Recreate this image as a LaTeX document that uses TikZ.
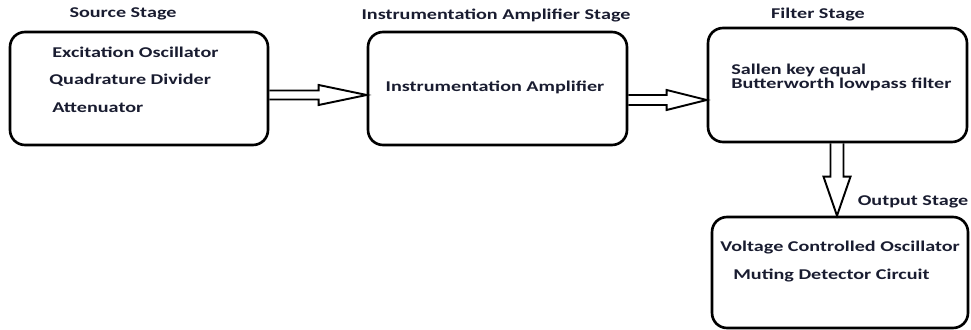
\documentclass[tikz,border=0pt]{standalone}
\usepackage{fontspec}
\setmainfont{Carlito}[FakeStretch=1.35]
\usetikzlibrary{calc}
\definecolor{labelink}{RGB}{25,28,48}

\begin{document}
\begin{tikzpicture}[x=0.02cm,y=-0.02cm,
    stagebox/.style={draw,line width=1.5pt,rounded corners=8.5pt,inner sep=0pt},
    stagetitle/.style={font=\fontsize{8.5}{10}\selectfont\bfseries,text=labelink,inner sep=0pt},
    boxtext/.style={font=\fontsize{8.5}{8}\selectfont\bfseries,text=labelink,inner sep=0pt,anchor=west,align=left},
    hollow/.style={draw,line width=1.1pt,line join=miter}]

  \useasboundingbox (0,0) rectangle (971,330);

  % the four stages
  \node[stagebox,minimum width=5.16cm,minimum height=2.26cm] (src) at (139,88.5) {};
  \node[stagebox,minimum width=5.18cm,minimum height=2.26cm] (amp) at (497.5,88.5) {};
  \node[stagebox,minimum width=5.18cm,minimum height=2.28cm] (filt) at (837.5,85) {};
  \node[stagebox,minimum width=5.12cm,minimum height=2.22cm] (out) at (840,272.5) {};

  % titles
  \node[stagetitle] (srctitle) at (123,14) {Source Stage};
  \node[stagetitle] (amptitle) at (496,16) {Instrumentation Amplifier Stage};
  \node[stagetitle] (filttitle) at (818,15) {Filter Stage};
  \node[stagetitle] (outtitle) at (913,202) {Output Stage};

  % contents
  \node[boxtext] (osc) at (52,52) {Excitation Oscillator};
  \node[boxtext] (quad) at (49,80) {Quadrature Divider};
  \node[boxtext] (att) at (52,108) {Attenuator};
  \node[boxtext,anchor=center] (ina) at (495,87) {Instrumentation Amplifier};
  \node[boxtext] (sallen) at (731,77) {Sallen key equal\\Butterworth lowpass filter};
  \node[boxtext] (vco) at (720,248) {Voltage Controlled Oscillator};
  \node[boxtext] (mute) at (733,276) {Muting Detector Circuit};

  % hollow arrows
  \coordinate (a1s) at ($(src.east)+(0,6.5)$);
  \coordinate (a1t) at ($(amp.west)+(0,6.5)$);
  \draw[hollow] ($(a1s)+(0,-4.5)$) -- ($(a1t)+(-48,-4.5)$) -- ($(a1t)+(-48,-10)$) -- (a1t)
    -- ($(a1t)+(-48,10)$) -- ($(a1t)+(-48,4.5)$) -- ($(a1s)+(0,4.5)$);

  \coordinate (a2s) at ($(amp.east)+(0,11.5)$);
  \coordinate (a2t) at ($(filt.west)+(0,15)$);
  \draw[hollow] ($(a2s)+(0,-5)$) -- ($(a2t)+(-40,-5)$) -- ($(a2t)+(-40,-10)$) -- (a2t)
    -- ($(a2t)+(-40,10)$) -- ($(a2t)+(-40,5)$) -- ($(a2s)+(0,5)$);

  \coordinate (a3s) at ($(filt.south)+(-0.5,0)$);
  \coordinate (a3t) at ($(out.north)+(-3,0)$);
  \draw[hollow] ($(a3s)+(-6.5,0)$) -- ($(a3t)+(-6.5,-39)$) -- ($(a3t)+(-13.5,-39)$) -- (a3t)
    -- ($(a3t)+(13.5,-39)$) -- ($(a3t)+(6.5,-39)$) -- ($(a3s)+(6.5,0)$);

\end{tikzpicture}
\end{document}
